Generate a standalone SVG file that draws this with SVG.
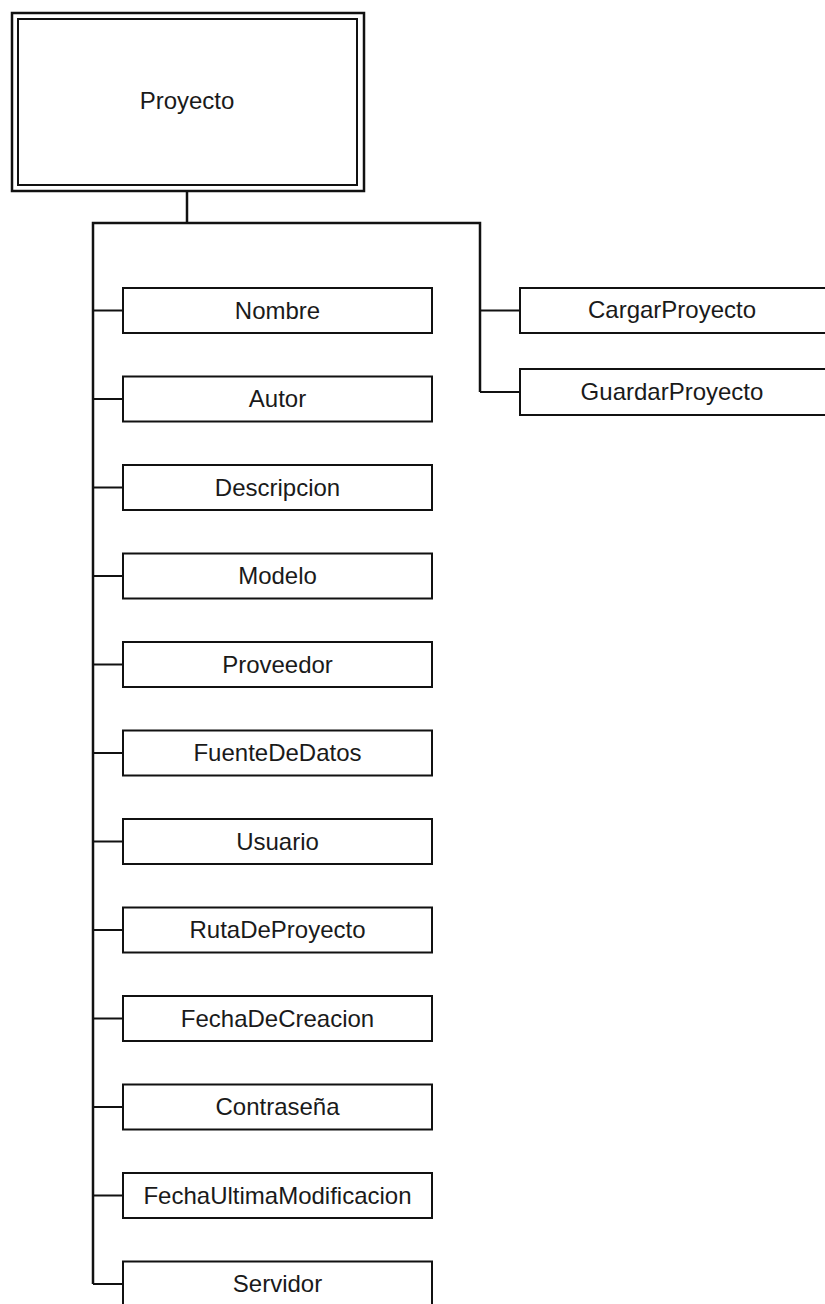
<svg xmlns="http://www.w3.org/2000/svg" width="825" height="1304" viewBox="0 0 825 1304">
<style>
.box{fill:#fff;stroke:#111;stroke-width:2}
.lbl{font-family:"Liberation Sans",Arial,sans-serif;font-size:24px;fill:#1a1a1a;text-anchor:middle}
.con{fill:none;stroke:#111;stroke-width:2.5}
.tick{fill:none;stroke:#111;stroke-width:2}
</style>
<rect width="825" height="1304" fill="#fff"/>
<g id="connectors">
<polyline class="con" points="187,191 187,223"/>
<polyline class="con" points="93,1284 93,223 480,223 480,392"/>
<line class="tick" x1="480" y1="310.5" x2="520" y2="310.5"/>
<line class="tick" x1="480" y1="392" x2="520" y2="392"/>
<line class="tick" x1="93" y1="310.5" x2="123" y2="310.5"/>
<line class="tick" x1="93" y1="399" x2="123" y2="399"/>
<line class="tick" x1="93" y1="487.5" x2="123" y2="487.5"/>
<line class="tick" x1="93" y1="576" x2="123" y2="576"/>
<line class="tick" x1="93" y1="664.5" x2="123" y2="664.5"/>
<line class="tick" x1="93" y1="753" x2="123" y2="753"/>
<line class="tick" x1="93" y1="841.5" x2="123" y2="841.5"/>
<line class="tick" x1="93" y1="930" x2="123" y2="930"/>
<line class="tick" x1="93" y1="1018.5" x2="123" y2="1018.5"/>
<line class="tick" x1="93" y1="1107" x2="123" y2="1107"/>
<line class="tick" x1="93" y1="1195.5" x2="123" y2="1195.5"/>
<line class="tick" x1="93" y1="1284" x2="123" y2="1284"/>
</g>
<g id="proyecto">
<rect x="12" y="13" width="352" height="178" fill="#fff" stroke="#111" stroke-width="2.5"/>
<rect x="18" y="19" width="339" height="166" fill="none" stroke="#111" stroke-width="2"/>
<text class="lbl" x="187" y="109">Proyecto</text>
</g>
<g id="cargarProyecto"><rect class="box" x="520" y="288" width="320" height="45"/><text class="lbl" x="672" y="318">CargarProyecto</text></g>
<g id="guardarProyecto"><rect class="box" x="520" y="369" width="320" height="46"/><text class="lbl" x="672" y="400">GuardarProyecto</text></g>
<g id="nombre"><rect class="box" x="123" y="288" width="309" height="45"/><text class="lbl" x="277.5" y="318.5">Nombre</text></g>
<g id="autor"><rect class="box" x="123" y="376.5" width="309" height="45"/><text class="lbl" x="277.5" y="407">Autor</text></g>
<g id="descripcion"><rect class="box" x="123" y="465" width="309" height="45"/><text class="lbl" x="277.5" y="495.5">Descripcion</text></g>
<g id="modelo"><rect class="box" x="123" y="553.5" width="309" height="45"/><text class="lbl" x="277.5" y="584">Modelo</text></g>
<g id="proveedor"><rect class="box" x="123" y="642" width="309" height="45"/><text class="lbl" x="277.5" y="672.5">Proveedor</text></g>
<g id="fuenteDeDatos"><rect class="box" x="123" y="730.5" width="309" height="45"/><text class="lbl" x="277.5" y="761">FuenteDeDatos</text></g>
<g id="usuario"><rect class="box" x="123" y="819" width="309" height="45"/><text class="lbl" x="277.5" y="849.5">Usuario</text></g>
<g id="rutaDeProyecto"><rect class="box" x="123" y="907.5" width="309" height="45"/><text class="lbl" x="277.5" y="938">RutaDeProyecto</text></g>
<g id="fechaDeCreacion"><rect class="box" x="123" y="996" width="309" height="45"/><text class="lbl" x="277.5" y="1026.5">FechaDeCreacion</text></g>
<g id="contrasena"><rect class="box" x="123" y="1084.5" width="309" height="45"/><text class="lbl" x="277.5" y="1115">Contraseña</text></g>
<g id="fechaUltimaModificacion"><rect class="box" x="123" y="1173" width="309" height="45"/><text class="lbl" x="277.5" y="1203.5">FechaUltimaModificacion</text></g>
<g id="servidor"><rect class="box" x="123" y="1261.5" width="309" height="45"/><text class="lbl" x="277.5" y="1292">Servidor</text></g>
</svg>
